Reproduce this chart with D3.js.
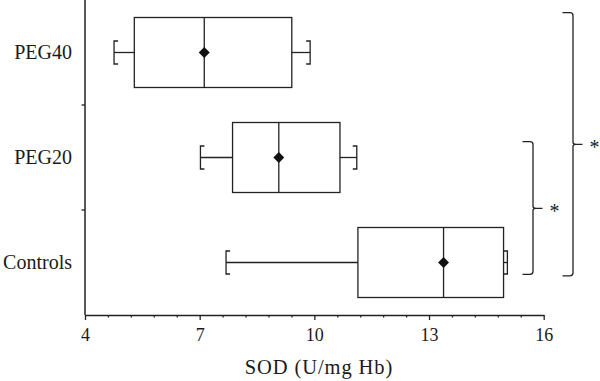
<!DOCTYPE html>
<html>
<head>
<meta charset="utf-8">
<script src="https://cdn.jsdelivr.net/npm/d3@7"></script>
<style>
  html, body { margin: 0; padding: 0; background: #fff; }
  svg { display: block; }
  text { font-family: "Liberation Serif", "Times New Roman", serif; fill: #1a1a1a; }
</style>
</head>
<body>
<svg id="chart" width="600" height="381"></svg>
<script>
// ---- data ----
const categories = ["PEG40", "PEG20", "Controls"];
const whiskerMin = [4.76, 7.02, 7.69];
const q1Values   = [5.29, 7.86, 11.14];
const medians    = [7.12, 9.07, 13.38];
const q3Values   = [9.41, 10.67, 14.95];
const whiskerMax = [9.89, 11.11, 15.05];
const means      = [7.12, 9.07, 13.38];
const majorTicks = [4, 7, 10, 13, 16];
const xLabel = "SOD (U/mg Hb)";
// significance brackets: [from category, to category, label]
const sigFrom  = ["PEG20", "PEG40"];
const sigTo    = ["Controls", "Controls"];
const sigLabel = ["*", "*"];

(function () {
// ---- layout ----
const svg = d3.select("#chart");
const mLeft = 85, mRight = 543.7, mTop = 0, mBottom = 315;
const stroke = "#222";

const x = d3.scaleLinear().domain([4, 16]).range([mLeft, mRight]);
const y = d3.scaleBand().domain(categories).range([mTop, mBottom]);
const yc = c => y(c) + y.bandwidth() / 2;

// minor ticks every 0.6
const minorTicks = d3.range(0, 21).map(i => 4 + i * 0.6).filter(v => !majorTicks.some(m => Math.abs(m - v) < 1e-6));

// x axis
const gx = svg.append("g").attr("transform", `translate(0,${mBottom})`);
gx.call(d3.axisBottom(x).tickValues(minorTicks).tickSize(2.5).tickFormat(""))
  .call(g => g.select(".domain").remove())
  .call(g => g.selectAll("line").attr("stroke", stroke).attr("stroke-width", 1.3));
gx.append("g").call(d3.axisBottom(x).tickValues(majorTicks).tickSize(5).tickPadding(8).tickSizeOuter(0).tickFormat(d3.format("d")))
  .call(g => g.select(".domain").attr("stroke", stroke).attr("stroke-width", 1.5))
  .call(g => g.selectAll("line").attr("stroke", stroke).attr("stroke-width", 1.3))
  .call(g => g.selectAll("text").attr("font-size", 18).attr("fill", "#1a1a1a")
     .attr("font-family", '"Liberation Serif", serif'));

// y axis
const gy = svg.append("g").attr("transform", `translate(${mLeft},0)`);
gy.append("line").attr("x1", 0).attr("x2", 0).attr("y1", mTop).attr("y2", mBottom)
  .attr("stroke", stroke).attr("stroke-width", 1.5);
[1, 2].forEach(i => {
  const yy = y(categories[i]);
  gy.append("line").attr("x1", -3.5).attr("x2", 0).attr("y1", yy).attr("y2", yy)
    .attr("stroke", stroke).attr("stroke-width", 1.3);
});
categories.forEach(c => {
  gy.append("text").attr("x", -13).attr("y", yc(c) + 6.5)
    .attr("text-anchor", "end").attr("font-size", 20).text(c);
});

// x label
svg.append("text").attr("x", 319).attr("y", 373.5).attr("text-anchor", "middle")
  .attr("font-size", 20.5).attr("letter-spacing", 0.9).text(xLabel);

// boxes
const boxH = 70, capH = 23, capW = 4;
const g = svg.append("g").attr("fill", "none").attr("stroke", stroke).attr("stroke-width", 1.3);
categories.forEach((c, i) => {
  const cy = yc(c);
  g.append("line").attr("x1", x(whiskerMin[i])).attr("x2", x(q1Values[i])).attr("y1", cy).attr("y2", cy);
  g.append("line").attr("x1", x(q3Values[i])).attr("x2", x(whiskerMax[i])).attr("y1", cy).attr("y2", cy);
  const lx = x(whiskerMin[i]), rx = x(whiskerMax[i]);
  g.append("path").attr("d", `M${lx + capW},${cy - capH / 2}H${lx}V${cy + capH / 2}H${lx + capW}`);
  g.append("path").attr("d", `M${rx - capW},${cy - capH / 2}H${rx}V${cy + capH / 2}H${rx - capW}`);
  g.append("rect").attr("x", x(q1Values[i])).attr("y", cy - boxH / 2)
    .attr("width", x(q3Values[i]) - x(q1Values[i])).attr("height", boxH).attr("fill", "#fff");
  g.append("line").attr("x1", x(medians[i])).attr("x2", x(medians[i]))
    .attr("y1", cy - boxH / 2).attr("y2", cy + boxH / 2);
  svg.append("path").attr("d", d3.symbol(d3.symbolSquare, 60)())
    .attr("transform", `translate(${x(means[i])},${cy}) rotate(45)`)
    .attr("fill", "#111");
});

// significance braces
const braceX = [522.5, 562.5];
const braceW = 10.5;
const braceTip = 9.5;
sigFrom.forEach((f, k) => {
  const ya = k === 0 ? 141.7 : 12.7;
  const yb = k === 0 ? 274.3 : 275.8;
  const x0 = braceX[k], x1 = x0 + braceW;
  const ym = k === 0 ? 208.3 : 144.3;
  const r = 3;
  svg.append("path")
    .attr("d", `M${x0},${ya}H${x1 - r}Q${x1},${ya} ${x1},${ya + r}V${ym - 2}Q${x1},${ym} ${x1 + 3},${ym}H${x1 + braceTip}M${x1 + 3},${ym}Q${x1},${ym} ${x1},${ym + 2}V${yb - r}Q${x1},${yb} ${x1 - r},${yb}H${x0}`)
    .attr("fill", "none").attr("stroke", stroke).attr("stroke-width", 1.3);
  svg.append("text").attr("x", x1 + braceTip + 12).attr("y", ym + 10)
    .attr("text-anchor", "middle").attr("font-size", 20).text(sigLabel[k]);
});
})();
</script>
</body>
</html>
